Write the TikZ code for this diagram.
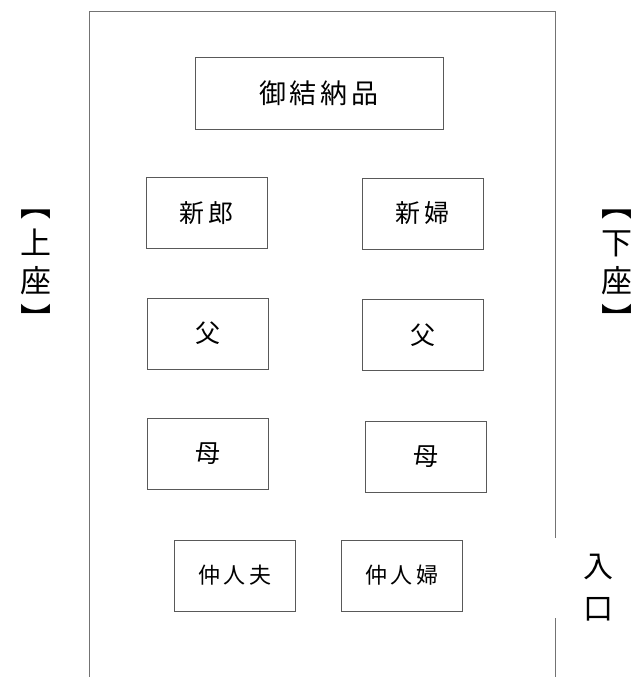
\documentclass[tikz,border=0pt]{standalone}
\usepackage{fontspec}
\newfontfamily\jp{Noto Sans CJK JP}
\newcommand\gp{\hspace{4pt}}
\begin{document}
\begin{tikzpicture}[x=1pt,y=-1pt,
  seat/.style={draw=black!65,line width=0.9pt,inner sep=0pt,minimum width=121pt,minimum height=71pt,font=\jp\fontsize{25}{25}\selectfont},
  side/.style={inner sep=0pt,align=center,font=\jp\fontsize{31}{38}\selectfont},
  frame/.style={draw=black!55,line width=0.9pt}]
\useasboundingbox (0,0) rectangle (637,677);
% frame
\coordinate (bl) at (89,677);
\coordinate (tl) at (89,11);
\coordinate (tr) at (555,11);
\coordinate (g1) at (555,538);
\coordinate (g2) at (555,618);
\coordinate (br) at (555,677);
\draw[frame] (bl) -- (tl) -- (tr) -- (g1);
\draw[frame] (g2) -- (br);
% boxes
\node[seat,minimum width=248pt,minimum height=72pt,font=\jp\fontsize{27}{27}\selectfont] (gift) at (319,93) {御\gp 結\gp 納\gp 品};
\node[seat] (groom) at (206.5,213) {新\gp 郎};
\node[seat] (bride) at (422.5,213.5) {新\gp 婦};
\node[seat] (f1) at (207.5,333.5) {父};
\node[seat] (f2) at (422.5,335) {父};
\node[seat] (m1) at (207.5,453.5) {母};
\node[seat] (m2) at (425.5,456.5) {母};
\node[seat,font=\jp\fontsize{22}{22}\selectfont] (n1) at (235,575.5) {仲\gp 人\gp 夫};
\node[seat,font=\jp\fontsize{22}{22}\selectfont] (n2) at (402,575.5) {仲\gp 人\gp 婦};
% side labels
\node[side] (upper) at (36,270) {︻\\上\\座\\︼};
\node[side] (lower) at (617,270) {︻\\下\\座\\︼};
\node[side,font=\jp\fontsize{30}{42}\selectfont] (entry) at (598,588) {入\\口};
\end{tikzpicture}
\end{document}
